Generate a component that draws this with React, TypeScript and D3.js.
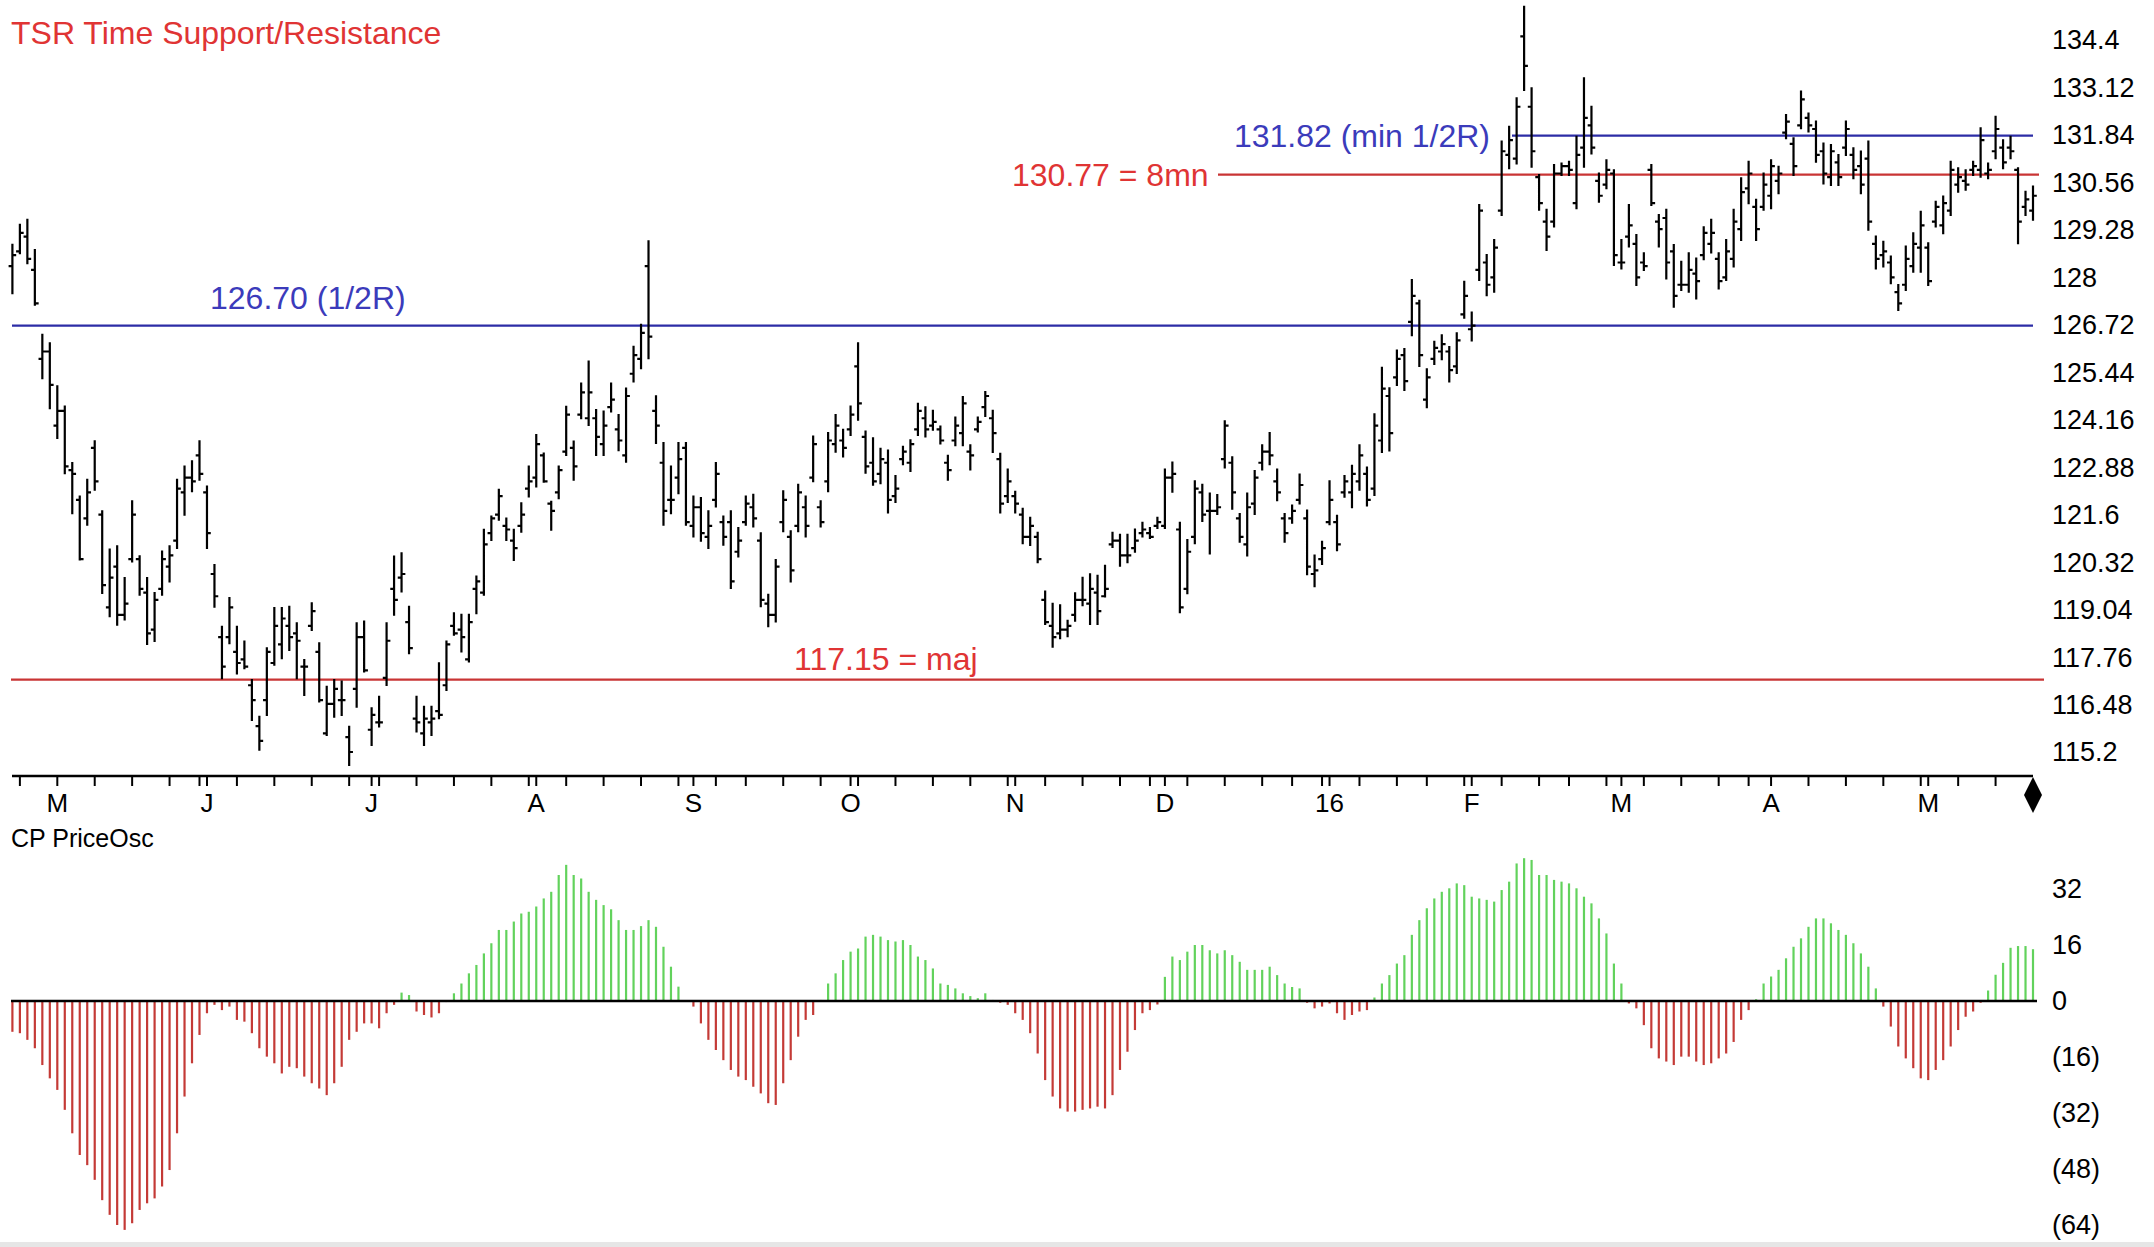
import React from 'react';
import * as d3 from 'd3';

type Bar = [number, number, number, number]; // open, high, low, close

// ---- daily OHLC bars grouped by month (Apr 2015 .. May 2016) ----
const apr15: Bar[] = [
  [128.3,128.88,127.57,128.6],[128.7,129.42,128.65,129.2],[129.1,129.55,128.38,128.5],
  [128.2,128.74,127.26,127.3],[125.8,126.45,125.28,126.0],[126.0,126.22,124.47,125.1]];
const may15: Bar[] = [
  [124.0,125.06,123.67,124.4],[124.4,124.52,122.72,122.9],[122.8,122.99,121.64,122.7],
  [122.0,122.09,120.39,120.4],[121.5,122.54,121.33,122.2],[123.4,123.58,122.27,122.5],
  [121.6,121.69,119.49,119.7],[119.1,120.66,118.86,119.9],[120.2,120.75,118.63,118.9],
  [118.9,119.89,118.77,119.2],[120.4,121.96,120.34,121.6],[120.4,120.48,119.44,119.6],
  [119.5,119.89,118.11,118.4],[118.5,119.49,118.19,119.3],[119.6,120.61,119.44,120.4],
  [120.2,120.75,119.80,120.5],[120.9,122.54,120.70,122.3],[122.2,122.90,121.60,122.6],
  [122.6,123.04,122.23,122.5],[123.2,123.58,122.54,122.7]];
const jun15: Bar[] = [
  [122.2,122.36,120.70,121.1],[120.0,120.24,119.12,119.4],[118.3,118.58,117.19,117.5],
  [118.3,119.35,118.13,119.1],[117.9,118.58,117.32,117.6],[117.7,118.18,117.46,117.5],
  [117.0,117.14,116.06,116.6],[115.9,116.15,115.26,115.5],[116.6,118.00,116.20,117.9],
  [117.6,119.08,117.55,118.6],[118.1,119.08,117.73,118.8],[118.6,119.12,117.95,118.3],
  [118.4,118.67,117.19,118.2],[117.5,117.68,116.74,117.5],[118.6,119.21,118.49,119.0],
  [117.9,118.13,116.56,116.6],[115.7,116.96,115.66,116.5],[116.5,117.14,116.15,116.9],
  [116.6,117.10,116.20,116.6],[115.6,115.88,114.85,115.2],[116.9,118.67,116.42,118.3],
  [118.3,118.72,117.37,117.4]];
const jul15: Bar[] = [
  [115.8,116.38,115.39,116.2],[116.0,116.69,115.89,116.0],[117.2,118.67,117.01,118.2],
  [119.6,120.47,118.90,119.3],[119.9,120.56,119.53,120.0],[118.7,119.12,117.86,118.0],
  [116.1,116.69,115.75,116.0],[115.7,116.42,115.39,116.1],[116.0,116.42,115.66,116.1],
  [116.3,117.59,116.11,116.2],[117.0,118.18,116.87,118.1],[118.6,118.94,118.36,118.4],
  [118.5,118.90,117.91,118.3],[117.7,118.90,117.64,118.7],[119.6,119.93,118.94,119.8],
  [119.5,121.19,119.44,120.8],[121.1,121.55,120.92,121.5],[121.6,122.27,121.46,122.1],
  [121.3,121.50,120.92,121.2],[120.9,121.19,120.38,120.7],[121.3,121.91,121.14,121.6],
  [122.3,122.90,122.09,122.5]];
const aug15: Bar[] = [
  [122.6,123.75,122.36,123.5],[123.2,123.25,122.49,122.5],[121.9,121.95,121.19,121.7],
  [122.2,122.90,122.04,122.8],[123.3,124.51,123.21,124.3],[123.4,123.57,122.54,122.9],
  [124.3,125.14,124.20,124.9],[124.2,125.73,124.02,124.9],[124.2,124.42,123.21,123.7],
  [123.5,124.38,123.21,124.0],[124.5,125.14,124.38,124.7],[123.9,124.29,123.34,123.6],
  [123.2,125.00,123.03,124.8],[125.4,126.13,125.19,125.9],[125.8,126.72,125.55,126.5],
  [128.3,128.97,125.82,126.4],[124.4,124.79,123.53,124.0],[123.0,123.53,121.33,121.7],
  [122.0,122.90,121.64,122.0],[122.6,123.53,122.18,123.1],[123.4,123.53,121.33,121.4]];
const sep15: Bar[] = [
  [121.3,122.09,121.01,121.8],[121.8,122.05,120.90,121.1],[121.0,121.69,120.70,121.3],
  [122.0,122.99,121.82,122.7],[121.4,121.55,120.79,121.0],[121.4,121.69,119.62,119.8],
  [120.6,121.24,120.47,120.9],[121.4,122.09,121.33,121.9],[121.8,122.14,121.28,121.5],
  [120.9,121.10,119.13,119.3],[119.2,119.44,118.59,118.9],[118.9,120.38,118.72,120.2],
  [121.4,122.23,121.15,122.0],[121.0,121.15,119.80,120.1],[121.3,122.41,121.15,122.2],
  [121.8,122.09,121.01,121.3],[122.6,123.71,122.50,123.5],[121.8,121.96,121.28,121.4],
  [122.5,123.80,122.23,123.6],[123.5,124.29,123.30,124.0],[123.6,123.89,123.17,123.4]];
const oct15: Bar[] = [
  [123.9,124.52,123.75,124.3],[125.6,126.22,124.16,124.6],[123.7,123.84,122.73,122.9],
  [123.0,123.66,122.41,122.5],[122.7,123.38,122.45,123.1],[123.0,123.33,121.66,122.0],
  [122.1,122.64,121.94,122.3],[123.1,123.43,122.96,123.3],[123.0,123.61,122.78,123.5],
  [123.9,124.59,123.75,124.4],[124.2,124.50,123.71,123.9],[124.0,124.40,123.89,124.1],
  [123.9,123.98,123.52,123.6],[123.0,123.19,122.54,122.8],[123.6,124.22,123.47,124.0],
  [123.8,124.77,123.47,124.6],[123.3,123.47,122.82,123.2],[123.9,124.22,123.84,124.1],
  [124.5,124.91,124.26,124.8],[124.2,124.40,123.29,123.8],[123.1,123.24,121.66,121.9],
  [122.1,122.82,121.94,122.5]];
const nov15: Bar[] = [
  [122.1,122.22,121.66,121.9],[121.6,121.76,120.83,121.0],[121.0,121.52,120.78,121.3],
  [121.0,121.11,120.32,120.4],[119.3,119.53,118.65,118.7],[118.6,119.20,118.04,118.3],
  [118.4,119.16,118.27,118.5],[118.5,118.74,118.32,118.6],[118.9,119.48,118.74,119.3],
  [119.3,119.90,119.16,119.3],[119.2,119.99,118.65,119.6],[119.5,119.95,118.65,119.0],
  [119.4,120.22,119.39,119.6],[120.8,121.11,120.73,120.9],[120.9,121.06,120.22,120.5],
  [120.5,121.06,120.32,120.5],[120.7,121.20,120.60,120.9],[121.1,121.38,121.01,121.2],
  [121.1,121.24,120.97,121.0],[121.3,121.52,121.24,121.4]];
const dec15: Bar[] = [
  [121.3,122.82,121.24,122.6],[122.6,123.01,122.22,122.7],[121.2,121.38,118.97,119.1],
  [119.6,120.92,119.48,120.6],[121.0,122.50,120.83,122.3],[122.2,122.41,121.43,121.6],
  [121.7,122.17,120.55,121.7],[121.7,122.13,121.62,121.8],[123.1,124.12,122.87,124.0],
  [123.0,123.15,121.76,122.2],[121.5,121.62,120.87,121.0],[120.8,122.17,120.50,121.8],
  [121.9,122.78,121.62,122.6],[123.0,123.47,122.82,123.3],[123.3,123.80,122.96,123.2],
  [122.5,122.82,121.99,122.2],[121.5,121.62,120.87,121.1],[121.5,121.85,121.38,121.7],
  [122.0,122.68,121.90,122.4],[121.5,121.71,119.99,120.2],[120.0,120.50,119.67,120.1],
  [120.4,120.87,120.27,120.7]];
const jan16: Bar[] = [
  [121.4,122.50,121.34,122.0],[121.4,121.57,120.64,120.8],[122.2,122.64,122.08,122.5],
  [122.2,122.92,121.80,122.7],[122.5,123.47,122.27,123.2],[122.7,122.87,121.85,122.0],
  [122.3,124.31,122.13,124.0],[123.6,125.56,123.29,125.0],[124.8,125.01,123.33,123.8],
  [125.3,126.03,125.10,125.8],[125.9,126.07,124.96,125.2],[126.8,127.93,126.44,127.5],
  [127.3,127.37,125.61,125.9],[124.7,125.52,124.50,125.3],[125.8,126.26,125.66,126.1],
  [126.0,126.44,125.79,126.2],[126.0,126.12,125.19,125.5],[125.6,126.49,125.42,126.3],
  [127.0,127.88,126.91,127.5]];
const feb16: Bar[] = [
  [126.6,127.05,126.30,126.7],[128.2,129.95,127.93,129.8],[128.4,128.60,127.52,127.8],
  [128.0,129.01,127.61,128.8],[129.8,131.66,129.68,131.4],[131.3,132.06,130.94,131.7],
  [131.2,132.83,131.07,132.6],[134.5,135.30,133.05,133.7],[132.6,133.10,130.98,131.4],
  [130.7,130.76,129.82,130.0],[129.5,129.82,128.74,129.1],[129.5,131.03,129.37,130.8],
  [130.8,131.07,130.76,131.0],[131.0,131.12,130.76,130.9],[130.0,131.79,129.86,131.3],
  [131.5,133.37,130.98,132.3],[132.1,132.60,131.34,131.5],[130.6,130.80,130.04,130.2],
  [130.5,131.16,130.40,130.9],[130.8,130.89,128.33,128.6]];
const mar16: Bar[] = [
  [128.4,129.01,128.24,128.4],[129.1,129.95,128.83,129.4],[128.9,129.14,127.79,128.0],
  [128.4,128.65,128.20,128.3],[130.9,131.03,129.95,130.0],[129.5,129.68,128.83,129.3],
  [129.6,129.82,127.97,128.4],[128.7,128.87,127.21,127.5],[127.8,128.42,127.66,127.8],
  [127.8,128.65,127.61,128.2],[128.1,128.51,127.43,127.9],[128.6,129.35,128.49,129.2],
  [128.9,129.55,128.67,129.2],[128.5,128.65,127.70,127.9],[128.0,129.01,127.93,128.7],
  [128.5,129.82,128.29,129.5],[129.3,130.67,129.01,130.3],[130.4,131.12,130.00,130.8],
  [129.9,130.09,129.01,129.3],[129.9,130.80,129.82,130.5]];
const apr16: Bar[] = [
  [130.2,131.16,129.86,131.0],[130.6,130.98,130.27,130.8],[131.9,132.38,131.75,132.2],
  [131.6,131.75,130.76,131.0],[132.1,133.01,132.02,132.8],[132.3,132.42,131.93,132.1],
  [132.0,132.20,131.12,131.3],[131.4,131.61,130.53,130.8],[130.7,131.57,130.49,131.4],
  [131.1,131.30,130.49,130.7],[131.5,132.20,131.30,132.0],[131.3,131.48,130.67,130.9],
  [131.0,131.39,130.27,130.5],[131.2,131.66,129.28,129.5],[128.9,129.10,128.24,128.5],
  [128.6,128.96,128.29,128.7],[128.4,128.56,127.84,128.0],[127.6,127.79,127.12,127.3],
  [127.8,128.83,127.66,128.5],[128.3,129.19,128.15,128.9],[128.8,129.77,128.15,129.4]];
const may16: Bar[] = [
  [128.8,128.92,127.79,127.9],[129.5,130.04,129.37,129.9],[129.4,130.18,129.19,130.0],
  [129.8,131.12,129.68,130.9],[130.5,130.94,130.31,130.7],[130.6,130.89,130.36,130.5],
  [130.9,131.12,130.76,131.0],[130.9,132.02,130.71,131.7],[130.8,131.07,130.67,130.9],
  [131.4,132.33,131.21,132.0],[131.5,131.70,130.94,131.1],[131.5,131.79,131.21,131.4],
  [130.9,130.94,128.92,129.5],[129.9,130.31,129.68,130.1],[129.8,130.45,129.55,130.2]];

// ---- CP PriceOsc histogram, same bars ----
const oscApr15 = [-8.8,-9.2,-11.1,-13.5,-18.3,-22.1];
const oscMay15 = [-25.4,-31.1,-37.8,-44,-46.9,-51.1,-56.9,-61.1,-64,-65.4,-63.5,-59.7,-57.8,-56.4,-53,-48.3,-37.8,-27.3,-17.8,-9.7];
const oscJun15 = [-3.5,-1.1,-2.6,-1.6,-5.4,-5.9,-9.2,-13.5,-15.9,-17.8,-20.7,-18.8,-19.2,-21.6,-23.5,-25,-26.9,-23.5,-18.8,-11.1,-8.8,-6.4];
const oscJul15 = [-6.4,-7.8,-3.5,-1.1,2.4,1.7,-3,-4,-4.7,-3.5,-0.3,2.2,5,7.9,10.3,13.6,16.5,20.3,20.3,22.7,25,25.5];
const oscAug15 = [27,29.3,31.2,36,38.9,36,35,31.2,28.9,27.4,26.2,23.1,20.3,20.3,21.4,23.1,21.2,15.5,9.8,4.1,-0.2];
const oscSep15 = [-1.6,-6.4,-11.1,-14,-16.9,-19.7,-21.6,-22.6,-24.5,-26.4,-29.2,-29.7,-23.5,-16.9,-10.2,-5.4,-4,0.3,5,7.9,11.7];
const oscOct15 = [14.1,15,18.4,18.9,18.4,17.4,17,17.4,16,12.7,11.7,9.3,5,4.6,3.6,2.2,1.4,0.8,2.2,0.3,-0.5,-1.1];
const oscNov15 = [-3.5,-5.4,-9.2,-15,-22.6,-27.3,-30.7,-31.6,-31.6,-31.1,-30.7,-30.2,-30.7,-26.9,-19.7,-14.5,-8.3,-3.5,-2.6,-1];
const oscDec15 = [6.9,12.7,11.7,14.1,16,16,14.5,13.6,14.5,13.1,11.2,8.9,8.9,8.9,9.8,7.4,5,4,3.6,-0.5,-2.1,-1.6];
const oscJan16 = [-0.7,-3.5,-5.4,-4,-3,-2.6,1,5,7.4,10.7,13.1,18.9,23.1,26.5,29.3,31.2,32.2,33.6,33.1];
const oscFeb16 = [29.8,29.3,28.9,28.4,31.7,34.1,39.3,40.8,40.3,36,36,34.6,34.1,33.6,32.2,29.8,27.9,23.6,19.3,10.7];
const oscMar16 = [5,-0.7,-2.1,-6.9,-13.5,-16.4,-17.3,-18.3,-15.9,-15.9,-17.3,-18.3,-17.8,-16.4,-15,-11.7,-5.4,-2.6,0.5,5];
const oscApr16 = [7,8.9,12.2,15.5,17.9,21.2,23.6,23.6,22.2,20.3,18.9,16.5,13.6,9.8,3.6,-1.6,-7.3,-13,-16.4,-19.2,-22.1];
const oscMay16 = [-22.6,-19.7,-16.9,-13,-8.3,-4.5,-3,-0.5,3,7.5,10.9,15.2,15.7,15.7,14.8];

const monthBars = [apr15, may15, jun15, jul15, aug15, sep15, oct15, nov15, dec15, jan16, feb16, mar16, apr16, may16];
const monthOsc = [oscApr15, oscMay15, oscJun15, oscJul15, oscAug15, oscSep15, oscOct15, oscNov15, oscDec15, oscJan16, oscFeb16, oscMar16, oscApr16, oscMay16];
const monthLabels = ['', 'M', 'J', 'J', 'A', 'S', 'O', 'N', 'D', '16', 'F', 'M', 'A', 'M'];
// last bar of each trading week (bar index)
const weekEndIdx = [1,6,11,16,21,25,30,35,40,45,49,54,59,64,69,74,79,84,89,94,98,103,108,113,118,123,128,133,138,143,148,152,157,162,167,171,175,180,185,189,194,199,204,208,213,218,223,228,232,235,240,245,250,255,260,265];

const priceTicks = [134.4,133.12,131.84,130.56,129.28,128,126.72,125.44,124.16,122.88,121.6,120.32,119.04,117.76,116.48,115.2];
const oscTicks = [32,16,0,-16,-32,-48,-64];

const levelValues = [126.70, 131.82, 130.77, 117.15];
const levelLabels = ['126.70 (1/2R)', '131.82 (min 1/2R)', '130.77 = 8mn', '117.15 = maj'];

const FONT = "'Liberation Sans', Arial, Helvetica, sans-serif";
const BLUE_LINE = '#2c2ca6';
const BLUE_TEXT = '#3b3bbb';
const RED_LINE = '#c93434';
const RED_TEXT = '#e03434';

export default function App() {
  const bars: Bar[] = ([] as Bar[]).concat(...monthBars);
  const osc: number[] = ([] as number[]).concat(...monthOsc);
  const n = bars.length;

  const monthStart: number[] = [];
  let acc = 0;
  monthBars.forEach((m) => { monthStart.push(acc); acc += m.length; });

  const x = d3.scaleLinear().domain([0, n - 1]).range([12.4, 2033]);
  const y = d3.scaleLinear().domain([115.2, 134.4]).range([752, 40]);
  const yo = d3.scaleLinear().domain([-64, 32]).range([1225, 889]);

  const fmt = (v: number) => String(+v.toFixed(2));
  const axisY = 776;

  const barPath = bars.map((b, i) => {
    const [o, h, l, c] = b;
    const cx = x(i);
    const oo = Math.max(l, Math.min(h, o));
    const cc = Math.max(l, Math.min(h, c));
    return `M${cx},${y(h) - 1}V${y(l) + 1}M${cx - 3.8},${y(oo)}H${cx}M${cx},${y(cc)}H${cx + 3.8}`;
  }).join('');

  const tickIdx = Array.from(new Set([...weekEndIdx, ...monthStart.slice(1)])).filter((t) => t < n - 1);

  const levelLines = [
    { x1: 12, x2: 2033, color: BLUE_LINE },
    { x1: 1512, x2: 2033, color: BLUE_LINE },
    { x1: 1218, x2: 2039, color: RED_LINE },
    { x1: 11, x2: 2044, color: RED_LINE },
  ];
  const levelText = [
    { x: 210, dy: -17, anchor: 'start', color: BLUE_TEXT },
    { x: 1490, dy: 11, anchor: 'end', color: BLUE_TEXT },
    { x: 1012, dy: 11, anchor: 'start', color: RED_TEXT },
    { x: 794, dy: -10, anchor: 'start', color: RED_TEXT },
  ];

  const dX = x(n - 1);

  return (
    <svg width={2154} height={1247} style={{ position: 'absolute', left: 0, top: 0, display: 'block', background: '#fff' }}
      xmlns="http://www.w3.org/2000/svg">
      <rect x={0} y={0} width={2154} height={1247} fill="#ffffff" />
      <text x={11} y={44} fontFamily={FONT} fontSize={32} fill={RED_TEXT}>TSR Time Support/Resistance</text>

      {levelValues.map((v, k) => (
        <line key={'l' + k} x1={levelLines[k].x1} x2={levelLines[k].x2} y1={y(v)} y2={y(v)}
          stroke={levelLines[k].color} strokeWidth={2.2} />
      ))}
      {levelValues.map((v, k) => (
        <text key={'t' + k} x={levelText[k].x} y={y(v) + levelText[k].dy} fontFamily={FONT} fontSize={32}
          fill={levelText[k].color} textAnchor={levelText[k].anchor as any}>{levelLabels[k]}</text>
      ))}

      <path d={barPath} stroke="#000" strokeWidth={2.2} fill="none" />

      {/* time axis */}
      <line x1={12} x2={dX} y1={axisY} y2={axisY} stroke="#000" strokeWidth={2.5} />
      {tickIdx.map((t) => (
        <line key={'k' + t} x1={x(t)} x2={x(t)} y1={axisY} y2={axisY + 10} stroke="#000" strokeWidth={2} />
      ))}
      {monthStart.map((s, k) => monthLabels[k] ? (
        <text key={'m' + k} x={x(s)} y={812} fontFamily={FONT} fontSize={26} textAnchor="middle" fill="#000">{monthLabels[k]}</text>
      ) : null)}
      <path d={`M${dX},777L${dX + 9},795L${dX},813L${dX - 9},795Z`} fill="#000" />

      {priceTicks.map((v) => (
        <text key={'p' + v} x={2052} y={y(v)} dy="0.35em" fontFamily={FONT} fontSize={27} fill="#000">{fmt(v)}</text>
      ))}

      {/* oscillator */}
      <text x={11} y={847} fontFamily={FONT} fontSize={25} fill="#000">CP PriceOsc</text>
      {osc.map((v, i) => (
        <line key={'o' + i} x1={x(i)} x2={x(i)} y1={yo(0)} y2={yo(v)}
          stroke={v >= 0 ? '#62d25c' : '#c43a36'} strokeWidth={2.2} />
      ))}
      <line x1={11} x2={2037} y1={yo(0)} y2={yo(0)} stroke="#000" strokeWidth={2.5} />
      {oscTicks.map((v) => (
        <text key={'q' + v} x={2052} y={yo(v)} dy="0.35em" fontFamily={FONT} fontSize={27} fill="#000">
          {v < 0 ? `(${-v})` : String(v)}
        </text>
      ))}
      <rect x={0} y={1242} width={2154} height={5} fill="#e6e6e6" />
    </svg>
  );
}
